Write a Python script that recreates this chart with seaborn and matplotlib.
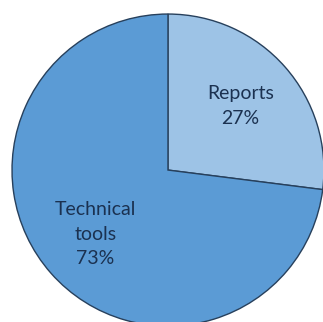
import matplotlib
matplotlib.use("Agg")
import matplotlib.pyplot as plt
import seaborn as sns

# Share of sources
categories = ["Reports", "Technical tools"]
shares = [27, 73]
colors = ["#9DC3E6", "#5B9BD5"]

sns.set_theme(style="white")
plt.rcParams["font.family"] = ["Lato", "DejaVu Sans"]

fig = plt.figure(figsize=(3.23, 3.22), dpi=100)
ax = fig.add_axes([0, 0, 1, 1])

labels = [f"{c.replace(' ', chr(10))}\n{v}%" for c, v in zip(categories, shares)]

wedges, texts = ax.pie(
    shares,
    labels=labels,
    colors=colors,
    startangle=90,
    counterclock=False,
    labeldistance=0.62,
    wedgeprops=dict(edgecolor="#27405c", linewidth=1.0),
    textprops=dict(color="#1b3150", fontsize=14, ha="center", va="center",
                   linespacing=1.55),
)

# Pie sits slightly right of and below the canvas centre, clipped at the edges
ax.set_xlim(-1.077, 0.994)
ax.set_ylim(-0.974, 1.090)
ax.set_aspect("auto")
ax.axis("off")

fig.savefig("out.png", dpi=100, facecolor="white")
